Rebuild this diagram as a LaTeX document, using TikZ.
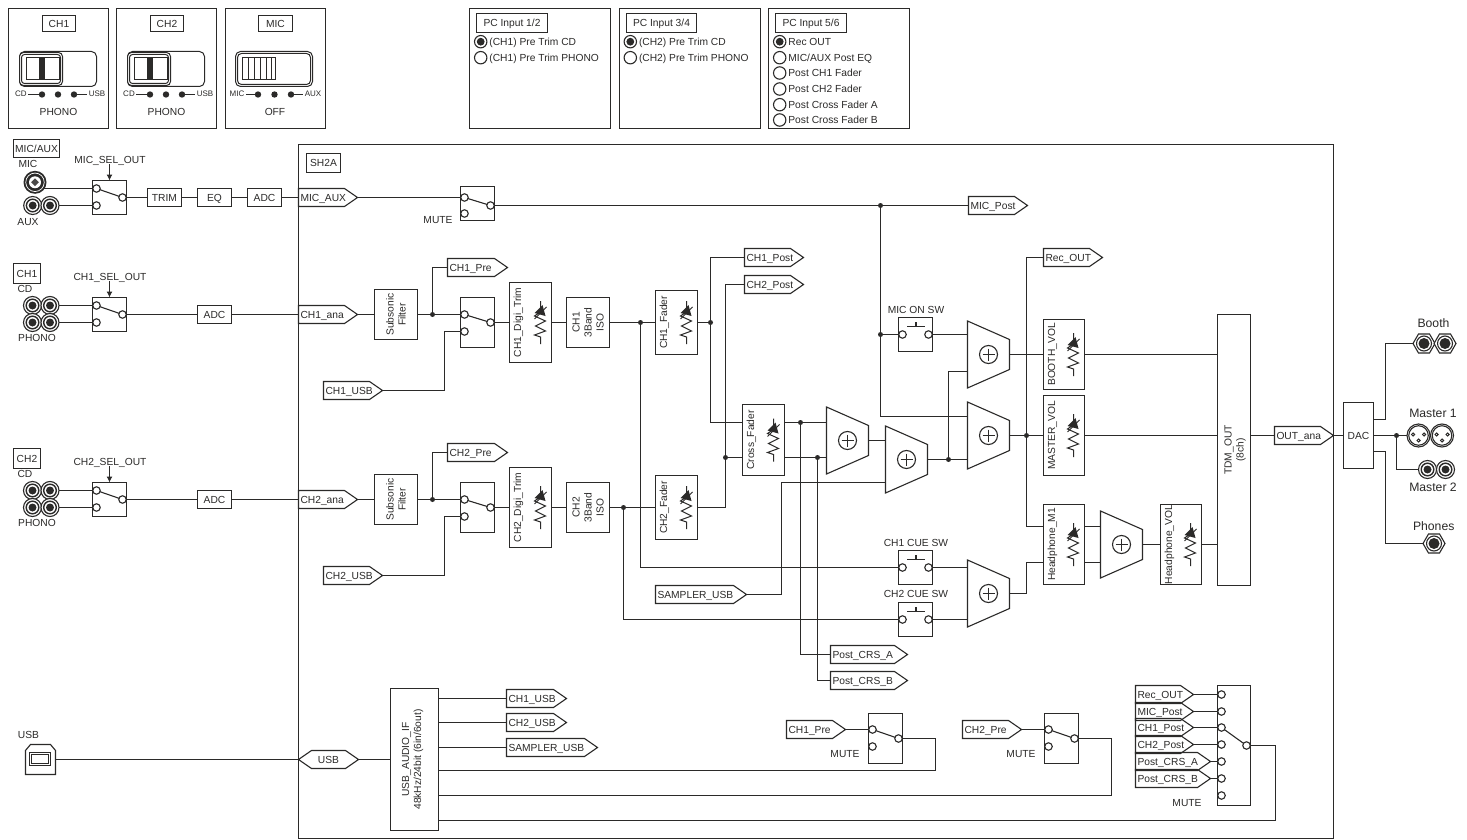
\documentclass[tikz,border=0pt]{standalone}
\usepackage{fontspec}
\setmainfont{Liberation Sans}
\usetikzlibrary{arrows.meta,calc,shapes.geometric}
\definecolor{ink}{HTML}{2B2A29}
\tikzset{
 ln/.style={draw=ink,line width=1.1pt,line join=miter},
 conn/.style={draw=ink,line width=1.1pt},
 arrowconn/.style={draw=ink,line width=1.1pt,-{Latex[length=6pt,width=6pt]}},
 lbl/.style={inner sep=0pt,outer sep=0pt,text=ink,font=\fontsize{10.25}{12}\selectfont,text height=7.3pt,text depth=0pt},
 lblbig/.style={inner sep=0pt,outer sep=0pt,text=ink,font=\fontsize{12.2}{14}\selectfont,text height=8.7pt,text depth=0pt},
 lbltiny/.style={inner sep=0pt,outer sep=0pt,text=ink,font=\fontsize{8}{10}\selectfont,text height=5.8pt,text depth=0pt},
 lblrot/.style={inner sep=0pt,outer sep=0pt,text=ink,font=\fontsize{10.25}{12}\selectfont,rotate=90,align=center},
 blk/.style={rectangle,draw=ink,line width=1.1pt,fill=white,inner sep=0pt,outer sep=0pt,text=ink,font=\fontsize{10.25}{12}\selectfont,text height=7.3pt,text depth=0pt},
 contact/.style={circle,draw=ink,line width=1.1pt,fill=white,inner sep=0pt,outer sep=0pt,minimum size=7.5pt},
 junction/.style={circle,fill=ink,inner sep=0pt,outer sep=0pt,minimum size=5pt},
 ring/.style={circle,draw=ink,line width=1.1pt,fill=white,inner sep=0pt,outer sep=0pt},
 disc/.style={circle,fill=ink,inner sep=0pt,outer sep=0pt},
}
% box: name x1 y1 x2 y2 text
\newcommand\bx[6]{\node[blk,minimum width={(#4)-(#2)},minimum height={(#5)-(#3)}] (#1) at ({((#2)+(#4))/2},{((#3)+(#5))/2}) {#6};}
% box with rotated text: name x1 y1 x2 y2 dx text
\newcommand\rbx[7]{\bx{#1}{#2}{#3}{#4}{#5}{}\node[lblrot] (#1-t) at ({(#2)+(#6)},{((#3)+(#5))/2}) {#7};}
% flag: name xl y xr text
\newcommand\flag[5]{\node[lbl,inner xsep=2pt,anchor=west,minimum height=18pt] (#1) at (#2,#3) {\makebox[\dimexpr #4pt-#2pt-4pt\relax][l]{#5}};
 \draw[ln] (#1.north west) -- ($(#1.north east)+(-13,0)$) -- (#1.east) -- ($(#1.south east)+(-13,0)$) -- (#1.south west) -- cycle;}
% change-over switch: name x yt yb ya yb yo
\newcommand\sw[7]{\bx{#1}{#2}{#3}{(#2)+34}{#4}{}
 \node[contact] (#1-a) at ({(#2)+4},#5) {};
 \node[contact] (#1-b) at ({(#2)+4},#6) {};
 \node[contact] (#1-o) at ({(#2)+30},#7) {};
 \draw[conn] (#1-a) -- (#1-o);}
% push switch: name x yt y
\newcommand\psw[4]{\bx{#1}{#2}{#3}{(#2)+34}{(#3)+34}{}
 \node[contact] (#1-a) at ({(#2)+4},#4) {};
 \node[contact] (#1-b) at ({(#2)+30},#4) {};
 \draw[conn] ({(#2)+8.5},{(#4)-8}) -- ({(#2)+26.5},{(#4)-8}) ({(#2)+17.5},{(#4)-8}) -- ({(#2)+17.5},{(#4)-12.5});}
% mixer: name cx cy ya yb
\newcommand\mixer[5]{\draw[ln,fill=white] ({(#2)-21},{(#3)-33.5}) -- ({(#2)+21},{(#3)-15}) -- ({(#2)+21},{(#3)+15}) -- ({(#2)-21},{(#3)+33.5}) -- cycle;
 \node[ring,minimum size=18pt] (#1) at (#2,#3) {};
 \draw[conn] ({(#2)-6},#3) -- ({(#2)+6},#3) (#2,{(#3)-6}) -- (#2,{(#3)+6});
 \coordinate (#1-a) at ({(#2)-21},#4); \coordinate (#1-b) at ({(#2)-21},#5); \coordinate (#1-r) at ({(#2)+21},#3);}
% fader symbol on the right of a box
\newcommand\pot[1]{\begin{scope}[shift={($(#1.east)+(-11,-21.5)$)}]
 \draw[draw=ink,line width=1pt,line join=miter] (0,0) -- (0,11) -- (-6,15) -- (5,20) -- (-5,25) -- (5,30) -- (-6,34) -- (0,36) -- (0,43);
 \fill[ink] (-6,12) -- (2,4) -- (5,15) -- cycle;
 \draw[draw=ink,line width=.8pt] (-6,18) -- (6,6);
 \end{scope}}
% jacks
\newcommand\rca[3]{\node[ring,minimum size=18pt] (#1) at (#2,#3) {};
 \node[ring,minimum size=12.6pt,line width=1.4pt] (#1-i) at (#2,#3) {};
 \node[disc,minimum size=8pt] (#1-c) at (#2,#3) {};}
\newcommand\hexj[3]{\node[regular polygon,regular polygon sides=6,draw=ink,line width=1.1pt,fill=white,inner sep=0pt,outer sep=0pt,minimum size=22pt] (#1) at (#2,#3) {};
 \node[ring,minimum size=15pt] (#1-i) at (#2,#3) {};
 \node[disc,minimum size=11pt] (#1-c) at (#2,#3) {};}
\newcommand\xlr[3]{\node[ring,minimum size=23pt] (#1) at (#2,#3) {};
 \node[ring,minimum size=19.5pt] (#1-i) at (#2,#3) {};
 \draw[draw=ink,line width=.9pt,fill=white] ({(#2)-5.5},{(#3)-1}) circle[radius=1.6] ({(#2)+5.5},{(#3)-1}) circle[radius=1.6] (#2,{(#3)+5}) circle[radius=1.6];}
% radio entries
\newcommand\radio[5]{\node[ring,minimum size=12.4pt] (#1) at (#2,#3) {};
 \node[lbl,anchor=west] (#1-t) at ({(#2)+8.7},#3) {#5};
 #4}
\newcommand\seldot[3]{\node[disc,minimum size=7.8pt] (#1-d) at (#2,#3) {};}
% selector panels
\newcommand\selpanel[3]{\begin{scope}[xshift=#2pt]
 \bx{#1-p}{8.5}{8.5}{108.5}{128.5}{}
 \bx{#1-h}{42.5}{15.5}{75.5}{31.5}{#3}
 \node[rectangle,draw=ink,line width=1pt,rounded corners=5pt,minimum width=77pt,minimum height=35pt,fill=white] (#1-s) at (58,69) {};
 \node[rectangle,draw=ink,line width=1pt,rounded corners=4pt,minimum width=43pt,minimum height=33pt,fill=white] (#1-k) at (41,69) {};
 \node[rectangle,draw=ink,line width=1pt,rounded corners=3pt,minimum width=39pt,minimum height=29pt,fill=white] (#1-j) at (41,69) {};
 \node[rectangle,draw=ink,line width=1pt,minimum width=33pt,minimum height=22pt,fill=white] (#1-n) at (43,68.5) {};
 \fill[ink] (39,57.5) rectangle (45,79.5);
 \node[lbltiny] (#1-cd) at (21,94) {CD};
 \node[lbltiny] (#1-usb) at (97,94) {USB};
 \node[disc,minimum size=6.4pt] (#1-d1) at (42,94.5) {};
 \node[disc,minimum size=6.4pt] (#1-d2) at (58,94.5) {};
 \node[disc,minimum size=6.4pt] (#1-d3) at (74,94.5) {};
 \draw[conn] ($(#1-cd.east)+(1.5,0.5)$) -- (#1-d1);
 \draw[conn] (#1-d3) -- ($(#1-usb.west)+(-1.5,0.5)$);
 \node[lbl] (#1-l) at (58.5,112) {PHONO};
 \end{scope}}
\begin{document}
\begin{tikzpicture}[x=1pt,y=-1pt]
\fill[white] (0,0) rectangle (1467,840);
\useasboundingbox (0,0) rectangle (1467,840);

% ---------- top panels ----------
\selpanel{sa}{0}{CH1}
\selpanel{sb}{108}{CH2}
\bx{sm-p}{225.5}{8.5}{325.5}{128.5}{}
\bx{sm-h}{258.5}{15.5}{292.5}{31.5}{MIC}
\node[rectangle,draw=ink,line width=1pt,rounded corners=5pt,minimum width=77pt,minimum height=35pt,fill=white] (sm-s) at (274,69) {};
\node[rectangle,draw=ink,line width=1pt,rounded corners=4pt,minimum width=73pt,minimum height=31pt,fill=white] (sm-k) at (274,69) {};
\node[rectangle,draw=ink,line width=1pt,minimum width=33pt,minimum height=22pt,fill=white] (sm-n) at (259,68.5) {};
\draw[conn] (248.5,57.5) -- (248.5,79.5) (254.5,57.5) -- (254.5,79.5) (260.5,57.5) -- (260.5,79.5) (266.5,57.5) -- (266.5,79.5) (271.5,57.5) -- (271.5,79.5);
\node[lbltiny] (sm-mic) at (237,94) {MIC};
\node[lbltiny] (sm-aux) at (313,94) {AUX};
\node[disc,minimum size=6.4pt] (sm-d1) at (258,94.5) {};
\node[disc,minimum size=6.4pt] (sm-d2) at (274.5,94.5) {};
\node[disc,minimum size=6.4pt] (sm-d3) at (291,94.5) {};
\draw[conn] ($(sm-mic.east)+(1.5,0.5)$) -- (sm-d1);
\draw[conn] (sm-d3) -- ($(sm-aux.west)+(-1.5,0.5)$);
\node[lbl] (sm-l) at (275,112) {OFF};

% PC input panels
\bx{pa}{469.5}{8.5}{610.5}{128.5}{}
\bx{pa-h}{476.5}{13.5}{547.5}{32.5}{PC Input 1/2}
\radio{pa1}{480.7}{41.7}{\seldot{pa1}{480.7}{41.7}}{(CH1) Pre Trim CD}
\radio{pa2}{480.7}{57.7}{}{(CH1) Pre Trim PHONO}
\bx{pb}{619.5}{8.5}{760.5}{128.5}{}
\bx{pb-h}{626.5}{13.5}{696.5}{32.5}{PC Input 3/4}
\radio{pb1}{630.3}{41.7}{\seldot{pb1}{630.3}{41.7}}{(CH2) Pre Trim CD}
\radio{pb2}{630.3}{57.7}{}{(CH2) Pre Trim PHONO}
\bx{pc}{768.5}{8.5}{909.5}{128.5}{}
\bx{pc-h}{775.5}{13.5}{846.5}{32.5}{PC Input 5/6}
\radio{pc1}{779.7}{41.7}{\seldot{pc1}{779.7}{41.7}}{Rec OUT}
\radio{pc2}{779.7}{57.7}{}{MIC/AUX Post EQ}
\radio{pc3}{779.7}{73}{}{Post CH1 Fader}
\radio{pc4}{779.7}{89}{}{Post CH2 Fader}
\radio{pc5}{779.7}{104.7}{}{Post Cross Fader A}
\radio{pc6}{779.7}{120}{}{Post Cross Fader B}

% ---------- SH2A frame ----------
\node[rectangle,draw=ink,line width=1.3pt,inner sep=0pt,outer sep=0pt,minimum width=1035pt,minimum height=694pt] (sh) at (816,491.5) {};
\bx{shl}{306.5}{153.5}{340.5}{172.5}{SH2A}

% ---------- MIC/AUX input ----------
\bx{mabox}{13.5}{139.5}{59.5}{157.5}{MIC/AUX}
\node[lbl] (miclbl) at (28,164) {MIC};
\node[disc,minimum size=23pt] (mic) at (35,182.3) {};
\node[circle,draw=white,line width=.7pt,inner sep=0pt,minimum size=18.5pt] (mic-r) at (35,182.3) {};
\node[circle,fill=white,inner sep=0pt,minimum size=12pt] (mic-w) at (35,182.3) {};
\node[diamond,fill=ink!85,inner sep=0pt,minimum size=8pt] (mic-d) at (35,182.3) {};
\rca{aux1}{32.7}{205.5}
\rca{aux2}{50}{205.5}
\node[lbl] (auxlbl) at (28,222) {AUX};
\node[lbl] (mslbl) at (110,159.5) {MIC\_SEL\_OUT};
\sw{swm}{92.5}{180.5}{214.5}{188.5}{205.5}{197.5}
\bx{trim}{147.5}{188.5}{181.5}{206.5}{TRIM}
\bx{eq}{197.5}{188.5}{231.5}{206.5}{EQ}
\bx{adcm}{247.5}{188.5}{281.5}{206.5}{ADC}
\flag{micaux}{298.5}{197.5}{357.5}{MIC\_AUX}
\draw[arrowconn] (swm.north |- mslbl.south) ++(0,1) -- (swm.north);
\draw[conn] (swm-a -| mic.-35) -- (swm-a);
\draw[conn] (aux2) -- (swm-b);
\draw[conn] (swm-o) -- (trim);
\draw[conn] (trim) -- (eq);
\draw[conn] (eq) -- (adcm);
\draw[conn] (adcm) -- (micaux.west);

% ---------- CH1 / CH2 inputs ----------
\bx{ch1box}{13.5}{263.5}{40.5}{283.5}{CH1}
\node[lbl] (cd1) at (25,289) {CD};
\node[lbl] (ph1) at (37,338) {PHONO};
\rca{j1a}{32.5}{305.5}\rca{j1b}{50}{305.5}\rca{j1c}{32.5}{322.5}\rca{j1d}{50}{322.5}
\node[lbl] (s1lbl) at (110,276.5) {CH1\_SEL\_OUT};
\sw{sel1}{92.5}{297.5}{331.5}{305.5}{322.5}{314.5}
\bx{adc1}{197.5}{305.5}{231.5}{323.5}{ADC}
\flag{ch1ana}{298.5}{314.5}{357.5}{CH1\_ana}
\draw[arrowconn] (sel1.north |- s1lbl.south) ++(0,1) -- (sel1.north);
\draw[conn] (j1b) -- (sel1-a);
\draw[conn] (j1d) -- (sel1-b);
\draw[conn] (sel1-o) -- (adc1);
\draw[conn] (adc1) -- (ch1ana.west);

\bx{ch2box}{13.5}{448.5}{40.5}{468.5}{CH2}
\node[lbl] (cd2) at (25,474) {CD};
\node[lbl] (ph2) at (37,523) {PHONO};
\rca{j2a}{32.5}{490.5}\rca{j2b}{50}{490.5}\rca{j2c}{32.5}{507.5}\rca{j2d}{50}{507.5}
\node[lbl] (s2lbl) at (110,461.5) {CH2\_SEL\_OUT};
\sw{sel2}{92.5}{482.5}{516.5}{490.5}{507.5}{499.5}
\bx{adc2}{197.5}{490.5}{231.5}{508.5}{ADC}
\flag{ch2ana}{298.5}{499.5}{357.5}{CH2\_ana}
\draw[arrowconn] (sel2.north |- s2lbl.south) ++(0,1) -- (sel2.north);
\draw[conn] (j2b) -- (sel2-a);
\draw[conn] (j2d) -- (sel2-b);
\draw[conn] (sel2-o) -- (adc2);
\draw[conn] (adc2) -- (ch2ana.west);

% ---------- MIC mute ----------
\sw{swmic}{460.5}{186.5}{220.5}{197.5}{213.5}{205.5}
\node[lbl] (mutem) at (438,220) {MUTE};
\flag{micpost}{968.5}{205.5}{1027.5}{MIC\_Post}
\node[junction] (jmic) at (880.5,205.5) {};
\draw[conn] (micaux.east) -- (swmic-a);
\draw[conn] (swmic-o) -- (micpost.west);

% ---------- CH1 chain ----------
\rbx{sub1}{374.5}{289.5}{417.5}{339.5}{21.5}{Subsonic\\Filter}
\node[junction] (jp1) at (432.5,314.5) {};
\flag{ch1pre}{447.5}{267.5}{507.5}{CH1\_Pre}
\sw{sw1}{460.5}{297.5}{347.5}{314.5}{331.5}{322.5}
\flag{ch1usb}{323.5}{390.5}{382.5}{CH1\_USB}
\coordinate (k1) at (444.5,331.5);
\rbx{trim1}{509.5}{282.5}{551.5}{362.5}{9}{CH1\_Digi\_Trim}
\rbx{iso1}{566.5}{297.5}{609.5}{347.5}{21.5}{CH1\\3Band\\ISO}
\node[junction] (jt1) at (640.5,322.5) {};
\rbx{fad1}{655.5}{290.5}{697.5}{354.5}{9}{CH1\_Fader}
\node[junction] (jf1) at (710.5,322.5) {};
\flag{ch1post}{744.5}{257.5}{803.5}{CH1\_Post}
\flag{ch2post}{744.5}{284.5}{803.5}{CH2\_Post}
\pot{trim1}\pot{fad1}
\draw[conn] (ch1ana.east) -- (sub1);
\draw[conn] (sub1) -- (jp1);
\draw[conn] (jp1) -- (sw1-a);
\draw[conn] (jp1) |- (ch1pre.west);
\draw[conn] (sw1-b) -- (k1) |- (ch1usb.east);
\draw[conn] (sw1-o) -- (trim1);
\draw[conn] (trim1) -- (iso1);
\draw[conn] (iso1) -- (jt1);
\draw[conn] (jt1) -- (fad1);
\draw[conn] (fad1) -- (jf1);

% ---------- CH2 chain ----------
\rbx{sub2}{374.5}{474.5}{417.5}{524.5}{21.5}{Subsonic\\Filter}
\node[junction] (jp2) at (432.5,499.5) {};
\flag{ch2pre}{447.5}{452.5}{507.5}{CH2\_Pre}
\sw{sw2}{460.5}{482.5}{532.5}{499.5}{516.5}{507.5}
\flag{ch2usb}{323.5}{575.5}{382.5}{CH2\_USB}
\coordinate (k2) at (444.5,516.5);
\rbx{trim2}{509.5}{467.5}{551.5}{547.5}{9}{CH2\_Digi\_Trim}
\rbx{iso2}{566.5}{482.5}{609.5}{532.5}{21.5}{CH2\\3Band\\ISO}
\node[junction] (jt2) at (623.5,507.5) {};
\rbx{fad2}{655.5}{475.5}{697.5}{539.5}{9}{CH2\_Fader}
\pot{trim2}\pot{fad2}
\draw[conn] (ch2ana.east) -- (sub2);
\draw[conn] (sub2) -- (jp2);
\draw[conn] (jp2) -- (sw2-a);
\draw[conn] (jp2) |- (ch2pre.west);
\draw[conn] (sw2-b) -- (k2) |- (ch2usb.east);
\draw[conn] (sw2-o) -- (trim2);
\draw[conn] (trim2) -- (iso2);
\draw[conn] (iso2) -- (jt2);
\draw[conn] (jt2) -- (fad2);

% ---------- Cross fader and mixers ----------
\rbx{xf}{742.5}{404.5}{784.5}{475.5}{9}{Cross\_Fader}
\pot{xf}
\coordinate (xf-a) at (742.5,422.5);
\coordinate (xf-b) at (742.5,457.5);
\coordinate (xf-c) at (784.5,422.5);
\coordinate (xf-d) at (784.5,457.5);
\node[junction] (jx1) at (800.5,422.5) {};
\node[junction] (jx2) at (817.5,457.5) {};
\node[junction] (jfb) at (725.5,457.5) {};
\mixer{mix1}{847.5}{440.5}{422.5}{457.5}
\mixer{mix2}{906.5}{459.5}{440.5}{482.5}
\mixer{mixB}{988.5}{354.5}{334.5}{371.5}
\mixer{mixM}{988.5}{435.5}{416.5}{459.5}
\mixer{mixC}{988.5}{593.5}{567.5}{619.5}
\mixer{mixH}{1121.5}{544.5}{526.5}{562.5}
\node[junction] (jmix) at (948.5,459.5) {};
\node[junction] (jmas) at (1026.5,435.5) {};
\node[junction] (jon) at (880.5,334.5) {};
\psw{micon}{898.5}{317.5}{334.5}
\node[lbl] (micl) at (916,310) {MIC ON SW};
\psw{cue1}{898.5}{550.5}{567.5}
\node[lbl] (cue1l) at (916,543.3) {CH1 CUE SW};
\psw{cue2}{898.5}{602.5}{619.5}
\node[lbl] (cue2l) at (916,594.3) {CH2 CUE SW};
\flag{smp}{655.5}{594.5}{746.5}{SAMPLER\_USB}
\flag{crsa}{830.5}{654.5}{907.5}{Post\_CRS\_A}
\flag{crsb}{830.5}{680.5}{907.5}{Post\_CRS\_B}
\flag{recout}{1043.5}{257.5}{1102.5}{Rec\_OUT}
\rbx{bvol}{1043.5}{319.5}{1084.5}{389.5}{9}{BOOTH\_VOL}
\rbx{mvol}{1043.5}{395.5}{1084.5}{475.5}{9}{MASTER\_VOL}
\rbx{hpm}{1043.5}{504.5}{1084.5}{584.5}{9}{Headphone\_M1}
\rbx{hvol}{1160.5}{504.5}{1201.5}{584.5}{9}{Headphone\_VOL}
\pot{bvol}\pot{mvol}\pot{hpm}\pot{hvol}
\coordinate (hpm-a) at (1043.5,526.5);
\coordinate (hpm-b) at (1043.5,562.5);
\coordinate (hpm-c) at (1084.5,526.5);
\coordinate (hpm-d) at (1084.5,562.5);
\rbx{tdm}{1217.5}{314.5}{1250.5}{585.5}{17.5}{TDM\_OUT\\(8ch)}

\draw[conn] (jf1) |- (ch1post.west);
\draw[conn] (jf1) |- (xf-a);
\draw[conn] (fad2) -| (jfb);
\draw[conn] (jfb) |- (ch2post.west);
\draw[conn] (jfb) -- (xf-b);
\draw[conn] (xf-c) -- (jx1);
\draw[conn] (jx1) -- (mix1-a);
\draw[conn] (xf-d) -- (jx2);
\draw[conn] (jx2) -- (mix1-b);
\draw[conn] (jx1) |- (crsa.west);
\draw[conn] (jx2) |- (crsb.west);
\draw[conn] (mix1-r) -- (mix2-a);
\draw[conn] (smp.east) -- ++(35,0) |- (mix2-b);
\draw[conn] (mix2-r) -- (jmix);
\draw[conn] (jmix) -- (mixM-b);
\draw[conn] (jmix) |- (mixB-b);
\draw[conn] (jmic) |- (mixM-a);
\draw[conn] (jon) -- (micon-a);
\draw[conn] (micon-b) -- (mixB-a);
\draw[conn] (jt1) |- (cue1-a);
\draw[conn] (jt2) |- (cue2-a);
\draw[conn] (cue1-b) -- (mixC-a);
\draw[conn] (cue2-b) -- (mixC-b);
\draw[conn] (mixB-r) -- (bvol);
\draw[conn] (mixM-r) -- (jmas);
\draw[conn] (jmas) -- (mvol);
\draw[conn] (recout.west) -| (jmas.center) |- (hpm-a);
\draw[conn] (mixC-r) -- ++(17,0) |- (hpm-b);
\draw[conn] (hpm-c) -- (mixH-a);
\draw[conn] (hpm-d) -- (mixH-b);
\draw[conn] (mixH-r) -- (hvol);
\draw[conn] (bvol) -- (tdm.west |- bvol.east);
\draw[conn] (mvol) -- (tdm.west |- mvol.east);
\draw[conn] (hvol) -- (tdm.west |- hvol.east);

% ---------- outputs ----------
\flag{outana}{1274.5}{435.5}{1333.5}{OUT\_ana}
\bx{dac}{1343.5}{402.5}{1373.5}{468.5}{DAC}
\coordinate (dac-u) at (1373.5,419.5);
\coordinate (dac-d) at (1373.5,451.5);
\node[junction] (jout) at (1396.5,435.5) {};
\node[lblbig] (boothl) at (1433.5,323) {Booth};
\hexj{bo1}{1424}{343.5}\hexj{bo2}{1445}{343.5}
\node[lblbig] (ma1l) at (1433,413) {Master 1};
\xlr{xl1}{1418.5}{435.5}\xlr{xl2}{1442}{435.5}
\rca{ma2a}{1427.5}{469.5}\rca{ma2b}{1445.5}{469.5}
\node[lblbig] (ma2l) at (1433,487) {Master 2};
\node[lblbig] (phl) at (1433.7,526) {Phones};
\hexj{ph}{1434}{543.5}
\draw[conn] (tdm.east |- outana.west) -- (outana.west);
\draw[conn] (outana.east) -- (dac);
\draw[conn] (dac) -- (jout);
\draw[conn] (jout) -- (xl1);
\draw[conn] (jout) |- (ma2a);
\draw[conn] (dac-u) -- ++(12,0) |- (bo1.west);
\draw[conn] (dac-d) -- ++(12,0) |- (ph.west);

% ---------- USB ----------
\node[lbl] (usbl) at (28.5,735) {USB};
\node[rectangle,inner sep=0pt,outer sep=0pt,minimum width=30pt,minimum height=30pt] (usbc) at (40.5,759.5) {};
\draw[ln] (usbc.south west) -- ($(usbc.north west)+(0,6)$) -- ($(usbc.north west)+(5,0)$) -- ($(usbc.north east)+(-5,0)$) -- ($(usbc.north east)+(0,6)$) -- (usbc.south east) -- cycle;
\node[rectangle,draw=ink,line width=1.1pt,inner sep=0pt,minimum width=21pt,minimum height=13pt] (usbc-o) at (40,759) {};
\node[rectangle,draw=ink,line width=1pt,inner sep=0pt,minimum width=17pt,minimum height=9pt] (usbc-i) at (40,759) {};
\node[lbl,minimum width=60pt,minimum height=18pt] (usbf) at (328.5,759.5) {USB};
\draw[ln] (usbf.west) -- ($(usbf.north west)+(13,0)$) -- ($(usbf.north east)+(-13,0)$) -- (usbf.east) -- ($(usbf.south east)+(-13,0)$) -- ($(usbf.south west)+(13,0)$) -- cycle;
\rbx{usbif}{390.5}{688.5}{438.5}{830.5}{22}{USB\_AUDIO\_IF\\48kHz/24bit (6in/6out)}
\flag{uo1}{506.5}{698.5}{566.5}{CH1\_USB}
\flag{uo2}{506.5}{722.5}{566.5}{CH2\_USB}
\flag{uo3}{506.5}{747.5}{597.5}{SAMPLER\_USB}
\coordinate (u4) at (438.5,770.5);
\coordinate (u5) at (438.5,795.5);
\coordinate (u6) at (438.5,820.5);
\coordinate (r4) at (935.5,770.5);
\coordinate (r5) at (1111.5,795.5);
\coordinate (r6) at (1275.5,820.5);
\draw[conn] (usbc.east |- usbf.west) -- (usbf.west);
\draw[conn] (usbf.east) -- (usbif);
\draw[conn] (usbif.east |- uo1.west) -- (uo1.west);
\draw[conn] (usbif.east |- uo2.west) -- (uo2.west);
\draw[conn] (usbif.east |- uo3.west) -- (uo3.west);

% ---------- USB return switches ----------
\flag{pr1}{786.5}{729.5}{845.5}{CH1\_Pre}
\sw{swc1}{868.5}{713.5}{763.5}{729.5}{746.5}{738.5}
\node[lbl] (mute1) at (845,754) {MUTE};
\flag{pr2}{962.5}{729.5}{1021.5}{CH2\_Pre}
\sw{swc2}{1044.5}{713.5}{763.5}{729.5}{746.5}{738.5}
\node[lbl] (mute2) at (1021,754) {MUTE};
\draw[conn] (pr1.east) -- (swc1-a);
\draw[conn] (pr2.east) -- (swc2-a);
\draw[conn] (swc1-o.east) -| (r4) -- (u4);
\draw[conn] (swc2-o.east) -| (r5) -- (u5);

\bx{swb}{1217.5}{685.5}{1250.5}{805.5}{}
\node[contact] (swb-1) at (1221.5,694.5) {};
\node[contact] (swb-2) at (1221.5,711.5) {};
\node[contact] (swb-3) at (1221.5,727.5) {};
\node[contact] (swb-4) at (1221.5,744.5) {};
\node[contact] (swb-5) at (1221.5,761.5) {};
\node[contact] (swb-6) at (1221.5,778.5) {};
\node[contact] (swb-7) at (1221.5,795.5) {};
\node[contact] (swb-o) at (1246.5,745.5) {};
\draw[conn] (swb-3) -- (swb-o);
\flag{f1}{1135.5}{694.5}{1193.5}{Rec\_OUT}
\flag{f2}{1135.5}{711.5}{1193.5}{MIC\_Post}
\flag{f3}{1135.5}{727.5}{1193.5}{CH1\_Post}
\flag{f4}{1135.5}{744.5}{1193.5}{CH2\_Post}
\flag{f5}{1135.5}{761.5}{1210.5}{Post\_CRS\_A}
\flag{f6}{1135.5}{778.5}{1210.5}{Post\_CRS\_B}
\node[lbl] (muteb) at (1187,803) {MUTE};
\draw[conn] (f1.east) -- (swb-1);
\draw[conn] (f2.east) -- (swb-2);
\draw[conn] (f3.east) -- (swb-3);
\draw[conn] (f4.east) -- (swb-4);
\draw[conn] (f5.east) -- (swb-5);
\draw[conn] (f6.east) -- (swb-6);
\draw[conn] (swb-o.east) -| (r6) -- (u6);
\end{tikzpicture}
\end{document}
